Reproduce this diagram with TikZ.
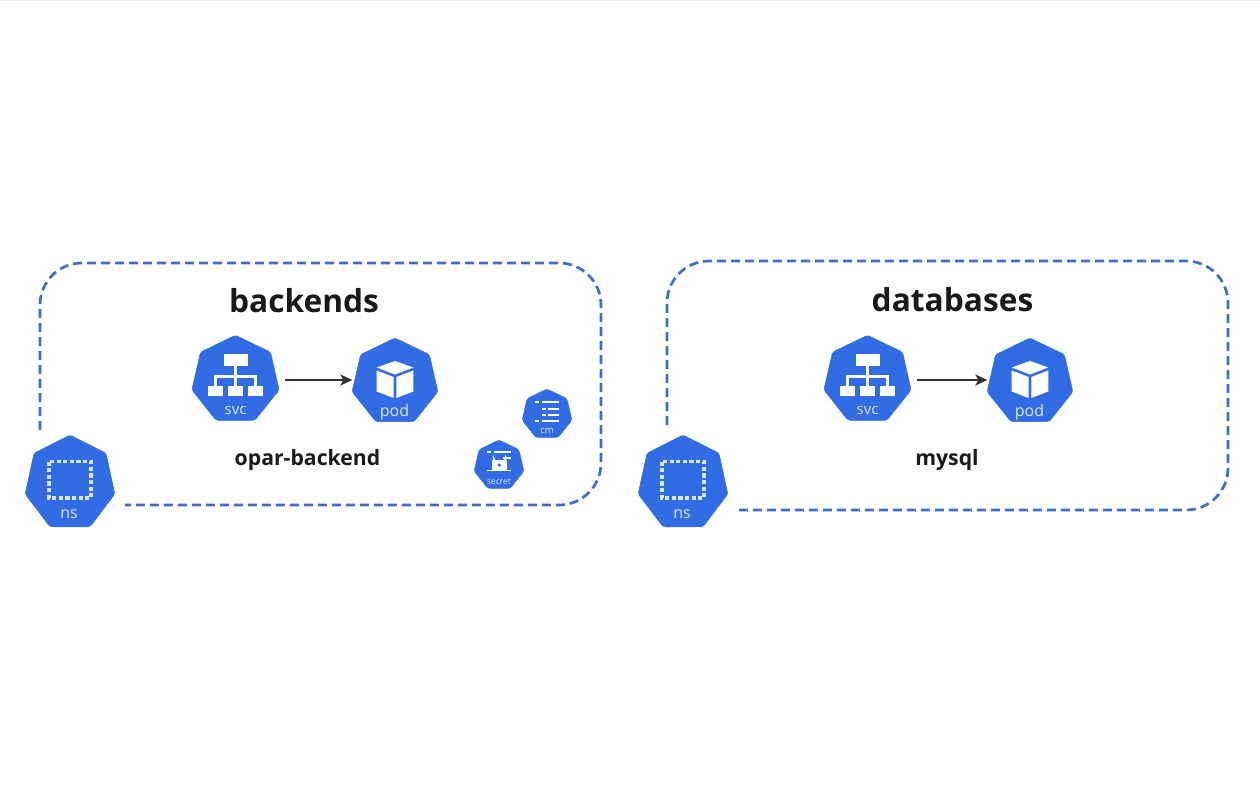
\documentclass[tikz,border=0pt]{standalone}
\usepackage{fontspec}
\setmainfont{Open Sans}
\usetikzlibrary{shapes.geometric,arrows.meta}
\definecolor{kube}{HTML}{326CE5}
\definecolor{dashblue}{HTML}{3A6DD0}
\definecolor{ink}{HTML}{1A1A1A}
\definecolor{pale}{HTML}{DCE6FA}
\tikzset{
  hept/.style={regular polygon,regular polygon sides=7,fill=kube,draw=kube,line width=0.5pt,rounded corners=2.5pt,inner sep=0pt,outer sep=0pt,minimum size=#1},
  tall/.style={transform shape,yscale=1.05},
  hlabel/.style={text=pale,inner sep=0pt,font=\fontsize{#1}{#1}\selectfont},
  title/.style={text=ink,inner sep=0pt,font=\fontsize{31.7}{36}\selectfont\bfseries},
  sub/.style={text=ink,inner sep=0pt,font=\fontsize{21.2}{24}\selectfont\bfseries},
  zone/.style={draw=dashblue,line width=2.7pt,dash pattern=on 9pt off 5pt,rounded corners=42pt},
  link/.style={draw=ink!90,line width=1.7pt,-{Stealth[length=12pt,width=11pt,inset=3pt]}},
  ico/.style={fill=white,draw=none},
  icoline/.style={draw=white,line width=2.2pt}
}
\newcommand{\svcicon}[2]{\begin{scope}[shift={(#1,#2)}]
  \fill[ico] (-11.5,-26) rectangle (12,-14.5);
  \fill[ico] (-27.5,5.5) rectangle (-13,16);
  \fill[ico] (-7.5,5.5) rectangle (7.5,16);
  \fill[ico] (12.5,5.5) rectangle (27.5,16);
  \draw[icoline] (0,-14.5) -- (0,5.5) (-20,5.5) -- (-20,-3.5) -- (20,-3.5) -- (20,5.5);
\end{scope}}
\newcommand{\podicon}[2]{\begin{scope}[shift={(#1,#2)}]
  \fill[ico] (0,-21) -- (18.3,-14.5) -- (0,-7.5) -- (-18.3,-14.5) -- cycle;
  \fill[ico] (-18.3,-11.5) -- (-1.3,-5) -- (-1.3,16) -- (-18.3,9.5) -- cycle;
  \fill[ico] (18.3,-11.5) -- (1.3,-5) -- (1.3,16) -- (18.3,9.5) -- cycle;
\end{scope}}
\newcommand{\nsicon}[2]{\begin{scope}[shift={(#1,#2)}]
  \draw[draw=pale,line width=3.2pt,dash pattern=on 4.2pt off 2.4pt] (-21,-19.5) rectangle (21,17);
\end{scope}}
\begin{document}
\begin{tikzpicture}[x=1pt,y=-1pt]
\useasboundingbox (0,0) rectangle (1260,793);
\fill[white] (0,0) rectangle (1260,793);
\fill[black!8] (0,0) rectangle (1260,1);

% dashed zones
\draw[zone] (40,430) -- (40,263) -- (601,263) -- (601,505) -- (125,505);
\draw[zone] (667,425) -- (667,261) -- (1228,261) -- (1228,510) -- (739,510);

% titles
\node[title] (t1) at (304,301) {backends};
\node[title] (t2) at (952.5,300) {databases};
\node[sub] (s1) at (307.5,460) {opar-backend};
\node[sub] (s2) at (947,460) {mysql};

% left group
\node[hept=89.5pt] (svc1) at (235.5,380) {};
\svcicon{235.5}{380}
\node[hlabel=15] (svc1l) at (235.5,410) {svc};
\node[hept=88pt] (pod1) at (395,382) {};
\podicon{395}{382}
\node[hlabel=16] (pod1l) at (394.5,412.5) {pod};
\node[hept=92pt,tall] (ns1) at (70,483.3) {};
\nsicon{70}{481}
\node[hlabel=16] (ns1l) at (69,514.5) {ns};

% cm
\node[hept=51pt] (cm) at (547,414.5) {};
\foreach \yy/\xa/\xb/\xc in {402.3/535/539.5/559,409/541.5/546/559,415/541.5/546/559,420.7/535/539.5/559}{
  \draw[white,line width=2.2pt] (\xa,\yy) -- +(4.2,0) (\xb+2.2,\yy) -- (\xc,\yy);
}
\node[hlabel=9.5] (cml) at (547,430.5) {cm};

% secret
\node[hept=51pt] (secret) at (499,465.5) {};
\draw[white,line width=1.8pt] (487,452.3) -- (491,452.3) (493.5,452.3) -- (511,452.3);
\draw[white,line width=1.8pt] (503,458) -- (511,458);
\draw[white,line width=1.8pt] (487,470.5) -- (510.5,470.5);
\draw[white,line width=1.9pt] (494,461) -- (494,459.5) arc[start angle=180,end angle=0,radius=5.5] -- (505,461);
\fill[white] (491.7,460) rectangle (507.3,470);
\fill[kube] (499.3,465) circle[radius=1.8];
\node[hlabel=8.5] (secretl) at (499,481.5) {secret};

% right group
\node[hept=89.5pt] (svc2) at (867.5,380) {};
\svcicon{867.5}{380}
\node[hlabel=15] (svc2l) at (867.5,410) {svc};
\node[hept=88pt] (pod2) at (1030,382) {};
\podicon{1030}{382}
\node[hlabel=16] (pod2l) at (1029.5,412.5) {pod};
\node[hept=92pt,tall] (ns2) at (683,483.3) {};
\nsicon{683}{481}
\node[hlabel=16] (ns2l) at (682,514.5) {ns};

% connectors
\draw[link,shorten <=8pt,shorten >=2pt] (svc1.east) -- (svc1.east -| pod1.west);
\draw[link,shorten <=8pt,shorten >=2pt] (svc2.east) -- (svc2.east -| pod2.west);
\end{tikzpicture}
\end{document}
